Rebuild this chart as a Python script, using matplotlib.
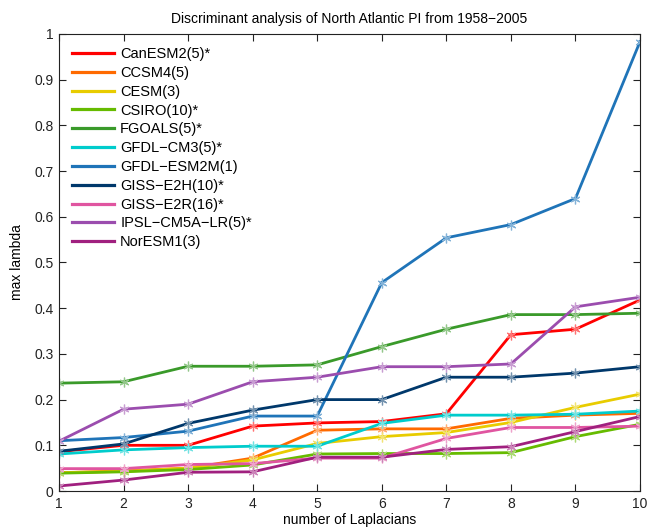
import matplotlib
matplotlib.use("Agg")
import matplotlib.pyplot as plt
import matplotlib.colors as mcolors
import numpy as np

plt.rcParams['font.family'] = ['Liberation Sans', 'DejaVu Sans']
plt.rcParams['font.size'] = 10

n_lap = list(range(1, 11))

models = ["CanESM2(5)*", "CCSM4(5)", "CESM(3)", "CSIRO(10)*", "FGOALS(5)*",
          "GFDL−CM3(5)*", "GFDL−ESM2M(1)", "GISS−E2H(10)*", "GISS−E2R(16)*",
          "IPSL−CM5A−LR(5)*", "NorESM1(3)"]

canesm2 = [0.086, 0.100, 0.100, 0.142, 0.149, 0.152, 0.169, 0.342, 0.354, 0.418]
ccsm4 = [0.040, 0.044, 0.050, 0.072, 0.133, 0.136, 0.136, 0.159, 0.166, 0.170]
cesm = [0.040, 0.043, 0.050, 0.068, 0.104, 0.119, 0.128, 0.150, 0.183, 0.212]
csiro = [0.039, 0.042, 0.047, 0.057, 0.081, 0.082, 0.082, 0.084, 0.119, 0.146]
fgoals = [0.236, 0.239, 0.273, 0.273, 0.276, 0.316, 0.354, 0.386, 0.386, 0.389]
gfdl_cm3 = [0.081, 0.090, 0.095, 0.098, 0.098, 0.148, 0.166, 0.166, 0.168, 0.175]
gfdl_esm2m = [0.110, 0.117, 0.131, 0.164, 0.164, 0.456, 0.554, 0.583, 0.640, 0.983]
giss_e2h = [0.087, 0.103, 0.148, 0.177, 0.200, 0.200, 0.249, 0.249, 0.258, 0.272]
giss_e2r = [0.049, 0.049, 0.058, 0.060, 0.072, 0.072, 0.115, 0.139, 0.139, 0.142]
ipsl = [0.109, 0.179, 0.190, 0.239, 0.249, 0.272, 0.272, 0.278, 0.403, 0.424]
noresm1 = [0.011, 0.024, 0.041, 0.042, 0.074, 0.074, 0.091, 0.097, 0.130, 0.163]

series = [canesm2, ccsm4, cesm, csiro, fgoals, gfdl_cm3, gfdl_esm2m,
          giss_e2h, giss_e2r, ipsl, noresm1]
colors = ["#ff0000", "#ff6a00", "#e8cc00", "#66bb00", "#3a9a2a", "#00cccc",
          "#1f74b8", "#00386b", "#e055a0", "#9b4dae", "#a0207f"]

fig = plt.figure(figsize=(6.49, 5.31), dpi=100)
ax = fig.add_axes([0.0909, 0.0753, 0.8952, 0.8607])

for name, vals, c in zip(models, series, colors):
    # asterisk markers are drawn in a paler tint of the line colour
    light = 0.55 * np.array(mcolors.to_rgb(c)) + 0.45
    ax.plot(n_lap, vals, color=c, lw=2.0, label=name,
            marker=(6, 2, 0), markersize=7, markeredgewidth=0.9,
            markeredgecolor=light, markerfacecolor=light)

ax.set_xlim(1, 10)
ax.set_ylim(0, 1)
ax.set_xticks(n_lap)
ax.set_yticks(np.arange(0, 1.01, 0.1))
ax.set_yticklabels(["0", "0.1", "0.2", "0.3", "0.4", "0.5", "0.6", "0.7", "0.8", "0.9", "1"])
ax.tick_params(direction='in', top=True, right=True, length=5, width=0.8,
               colors='#222222', labelsize=10, pad=4)
for s in ax.spines.values():
    s.set_color('#222222')
    s.set_linewidth(0.8)

ax.set_title("Discriminant analysis of North Atlantic PI from 1958−2005", fontsize=10, pad=8)
ax.set_xlabel("number of Laplacians", fontsize=10, labelpad=2)
ax.set_ylabel("max lambda", fontsize=10, labelpad=7)

leg = ax.legend(loc='upper left', fontsize=10.5, handlelength=2.9, handletextpad=0.4,
                labelspacing=0.33, borderpad=0.4, frameon=False,
                borderaxespad=0.5)
for h in leg.get_lines():
    h.set_marker('')
    h.set_linewidth(2.3)

fig.savefig("out.png", dpi=100)
